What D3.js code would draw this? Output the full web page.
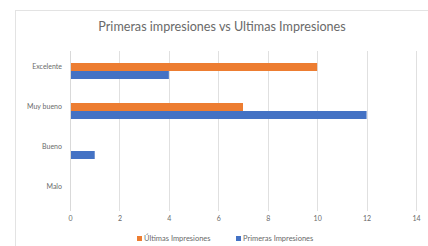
<!DOCTYPE html>
<html><head><meta charset="utf-8">
<script src="https://cdn.jsdelivr.net/npm/d3@7"></script>
<style>body{margin:0;background:#fff}svg{display:block}</style>
</head><body>
<script>
const categories = ["Excelente", "Muy bueno", "Bueno", "Malo"];
const ultimas = [10, 7, 0, 0];
const primeras = [4, 12, 1, 0];
const seriesNames = ["Últimas Impresiones", "Primeras Impresiones"];
const xTicks = [0, 2, 4, 6, 8, 10, 12, 14];
const title = "Primeras impresiones vs Ultimas Impresiones";

const W = 428, H = 246;
const colors = ["#ED7D31", "#4472C4"];
const font = "Lato, 'Open Sans', sans-serif";
const svg = d3.select("body").append("svg").attr("width", W).attr("height", H);
svg.append("rect").attr("x", 15.5).attr("y", 10.5).attr("width", 430).attr("height", 250)
  .attr("fill", "#fff").attr("stroke", "#e3e3e3");

const x = d3.scaleLinear().domain([0, 14]).range([70, 416]);
const y = d3.scaleBand().domain(categories).range([51, 211]);
const sub = d3.scaleBand().domain([0, 1]).range([0, y.bandwidth()]).paddingOuter(1.5);

svg.append("text").attr("x", 222).attr("y", 31).attr("text-anchor", "middle")
  .attr("font-family", font).attr("font-size", 12.6).attr("fill", "#6a6a6a").text(title);

// grid
svg.append("g").selectAll("line").data(xTicks).join("line")
  .attr("x1", d => Math.round(x(d)) + 0.5).attr("x2", d => Math.round(x(d)) + 0.5)
  .attr("y1", 51).attr("y2", 211).attr("stroke", "#e0e0e0");

const data = categories.map((c, i) => ({c, vals: [ultimas[i], primeras[i]]}));
const g = svg.append("g");
data.forEach(d => {
  d.vals.forEach((v, s) => {
    g.append("rect").attr("x", x(0)).attr("y", y(d.c) + sub(s))
      .attr("width", x(v) - x(0)).attr("height", sub.bandwidth()).attr("fill", colors[s]);
  });
});

// axes
const xAxis = d3.axisBottom(x).tickValues(xTicks).tickSize(0).tickPadding(0);
const xa = svg.append("g").attr("transform", "translate(0,217)").call(xAxis);
xa.select(".domain").remove();
xa.selectAll("text").attr("font-family", font).attr("font-size", 7).attr("fill", "#6a6a6a").attr("dy", "0.6em");

const yAxis = d3.axisLeft(y).tickSize(0).tickPadding(8);
const ya = svg.append("g").attr("transform", "translate(70,-4)").call(yAxis);
ya.select(".domain").remove();
ya.selectAll("text").attr("font-family", font).attr("font-size", 7).attr("fill", "#6a6a6a");
svg.append("line").attr("x1", 70.5).attr("x2", 70.5).attr("y1", 51).attr("y2", 211).attr("stroke", "#d9d9d9");

// legend
const leg = svg.append("g").attr("font-family", font).attr("font-size", 7.5).attr("fill", "#6a6a6a");
const lx = [137, 236];
seriesNames.forEach((n, i) => {
  leg.append("rect").attr("x", lx[i]).attr("y", 236).attr("width", 5).attr("height", 5).attr("fill", colors[i]);
  leg.append("text").attr("x", lx[i] + 7).attr("y", 241).text(n);
});
</script>
</body></html>
